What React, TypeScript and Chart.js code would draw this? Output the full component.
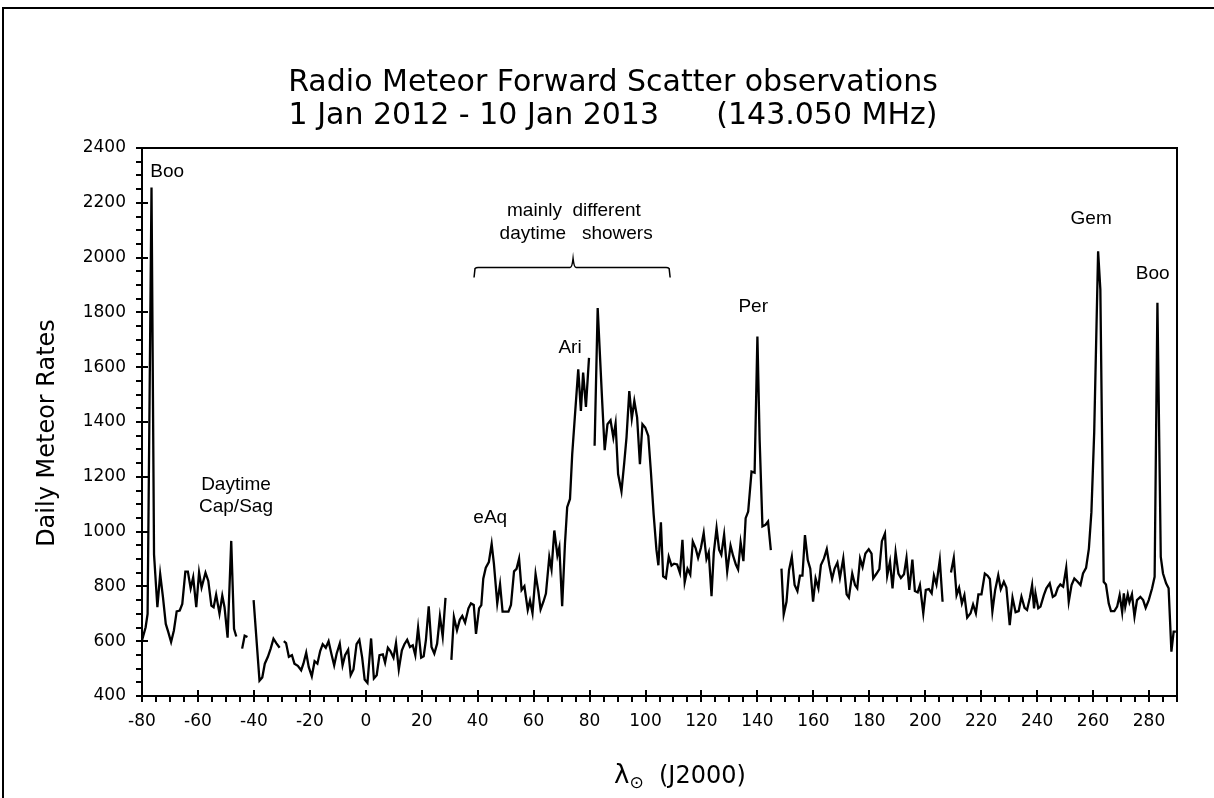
import React, { useEffect, useRef } from "react";
import { Chart, registerables } from "chart.js";

Chart.register(...registerables);

// Solar longitude (degrees, J2000) of each daily count; null rate marks a data gap
const lambda: number[] = [
  -80, -78.7, -78.0, -76.6, -75.7, -74.5, -73.5, -72.5, -71.5, -70.6, -69.6, -68.6, -67.6, -66.5, -65.6, -64.5,
  -63.6, -62.6, -61.7, -60.6, -59.6, -58.7, -57.3, -56.3, -55.2, -54.4, -53.5, -52.3, -51.3, -50.5, -49.4, -48.1,
  -47.1, -46.3, -45.2,
  -44.2, -43.3, -42.3, -41.2,
  -40.1, -38, -37, -36.1, -35, -34, -33, -32, -30.8, -30,
  -29.3, -28.5, -27.5, -26.4, -25.5, -24.3, -23.1, -22.3, -21.3, -20.4, -19.3, -18.3, -17.3, -16.3, -15.4, -14.3,
  -13.3, -12.3, -11.3, -10.4, -9.3, -8.3, -7.4, -6.3, -5.4, -4.4, -3.3, -2.3, -1.3, -0.4, 0.6, 1.9,
  2.9, 3.9, 4.9, 6.1, 6.9, 7.9, 8.8, 9.9, 10.8, 11.8, 12.9, 13.8, 14.8, 15.8, 16.8, 17.7,
  18.7, 19.8, 20.7, 21.5, 22.5, 23.5, 24.5, 25.5, 26.5, 27.5, 28.5, 29.5,
  30.6, 31.5, 32.6, 33.6, 34.5, 35.5, 36.7, 37.6, 38.6, 39.4, 40.5, 41.3, 42, 42.9, 44, 45,
  45.8, 47, 48, 48.9, 50, 51, 51.9, 53, 53.9, 54.8, 55.7, 56.7, 57.9, 58.7, 59.6, 60.7,
  61.7, 62.5, 63.5, 64.4, 65.6, 66.4, 67.4, 68.5, 69.2, 70.2, 71.2, 72, 73, 73.8, 74.8, 75.95,
  76.9, 77.7, 78.7, 79.8, 80.8,
  81.8, 82.9, 83.7, 84.5, 85.4, 86.4, 87.5, 88.5, 89.3, 90.2, 91.4, 92.4, 93.2, 94.2, 95.1, 96,
  97, 98, 98.9, 99.9, 101, 101.9, 102.9, 103.9, 104.6, 105.5, 106.3, 107.3, 108.3, 109.3, 110.2, 111.3,
  112.3, 113.2, 114, 115, 116, 116.9, 117.9, 118.8, 119.8, 120.8, 121.8, 122.6, 123.6, 124.4, 125.4, 126.3,
  127.1, 128.1, 129.2, 130.4, 131.3, 132.3, 133.1, 134, 135, 135.8, 136.7, 137.9, 139, 140, 140.8, 141.8,
  142.9, 143.8, 144.8, 146.7,
  148.6, 149.4, 150.4, 151.3, 152.3, 153.3, 154.3, 155.2, 156.1, 157, 158, 158.9, 159.9, 160.8, 161.8, 162.7,
  163.8, 164.8, 165.7, 166.7, 167.6, 168.6, 169.5, 170.7, 171.9, 172.7, 173.9, 174.9, 175.7, 176.7, 177.6, 178.6,
  179.8, 180.8, 181.4, 182.6, 183.6, 184.5, 185.6, 186.4, 187.4, 188.3, 189.4, 190.4, 191.3, 192.4, 193.3, 194.3,
  195.4, 196.3, 197.3, 198.1, 199.3, 200.2, 201.3, 202.3, 203.1, 204, 205.2, 206.2, 207.7,
  209.2, 210.2, 211.2, 212.1, 213.1, 214, 215, 216.2, 217.1, 218.1, 219, 220.1, 221.3, 222.3, 223.1, 224,
  225, 226.1, 227, 228.1, 229, 230.2, 231.2, 232.3, 233.4, 234.4, 235.5, 236.4, 237.4, 238.2, 238.9, 239.4,
  240.4, 241.2, 242.4, 243.3, 244.5, 245.6, 246.5, 247.4, 248.3, 249.3, 250.4, 251.3, 252.3, 253.3, 254.3, 255.5,
  256.4, 257.5, 258.5, 259.4, 260.4, 261.8, 262.6, 263.8, 264.6, 265.6, 266.4, 267.6, 268.6, 269.5, 270.4, 271,
  271.5, 272.4, 273, 273.9, 274.8, 275.7, 276.9, 277.9, 278.8, 279.9, 281.1, 282, 283, 284.2, 285, 286.1,
  287, 288, 288.8, 289.6,
];

// Daily meteor rates
const rates: (number | null)[] = [
  603, 651, 700, 2256, 917, 724, 845, 760, 663, 633, 597, 639, 709, 712, 736, 854,
  854, 793, 833, 724, 851, 796, 850, 820, 730, 724, 770, 700, 766, 724, 613, 966,
  645, 617, null,
  573, 620, 615, null,
  750, 456, 468, 518, 543, 573, 609, 593, 576, null,
  600, 593, 543, 549, 518, 510, 494, 518, 558, 506, 472, 527, 518, 564, 589, 576,
  600, 554, 512, 555, 591, 512, 549, 569, 476, 497, 589, 605, 541, 460, 448, 610,
  464, 476, 549, 552, 522, 576, 564, 540, 593, 497, 567, 589, 605, 579, 585, 549,
  649, 540, 545, 605, 727, 579, 555, 591, 691, 617, 758, null,
  532, 688, 640, 678, 692, 668, 720, 738, 732, 627, 720, 732, 828, 868, 889, 955,
  883, 738, 808, 708, 708, 708, 732, 855, 864, 901, 787, 801, 714, 748, 702, 845,
  781, 716, 744, 774, 907, 862, 1004, 913, 943, 728, 955, 1089, 1119, 1283, 1428, 1592,
  1440, 1580, 1455, 1634, null,
  1313, 1816, 1646, 1477, 1297, 1392, 1406, 1343, 1394, 1210, 1147, 1252, 1343, 1513, 1413, 1477,
  1416, 1246, 1392, 1380, 1349, 1222, 1064, 934, 877, 1034, 837, 830, 908, 876, 883, 880,
  849, 970, 815, 864, 843, 964, 940, 904, 940, 995, 900, 924, 764, 922, 1013, 934,
  916, 989, 855, 949, 912, 880, 862, 961, 892, 1049, 1073, 1219, 1215, 1712, 1334, 1019,
  1025, 1037, 932, null,
  865, 698, 744, 859, 908, 805, 783, 839, 839, 987, 896, 865, 744, 829, 793, 878,
  902, 936, 878, 827, 865, 887, 831, 902, 771, 759, 847, 805, 793, 902, 871, 920,
  936, 920, 829, 847, 863, 965, 993, 839, 890, 793, 924, 847, 831, 844, 904, 787,
  898, 783, 778, 805, 702, 787, 790, 775, 839, 807, 896, 744, null,
  851, 904, 768, 795, 738, 768, 686, 702, 734, 702, 771, 771, 847, 839, 827, 708,
  787, 841, 790, 817, 796, 659, 759, 706, 710, 762, 722, 714, 759, 805, 720, 775,
  720, 726, 768, 793, 811, 762, 768, 795, 807, 799, 868, 744, 805, 829, 819, 805,
  847, 868, 938, 1071, 1362, 2023, 1883, 817, 807, 738, 710, 710, 726, 768, 705, 775,
  726, 771, 742, 771, 690, 750, 762, 750, 722, 750, 793, 835, 1835, 908, 847, 811,
  793, 562, 635, 635,
];

// Shower annotations: label text, anchor longitude and anchor rate
const noteLabels: string[] = [
  "Boo", "Daytime", "Cap/Sag", "eAq", "Ari", "mainly  different", "daytime   showers", "Per", "Gem", "Boo",
];
const noteLambda: number[] = [-71.0, -46.4, -46.4, 44.5, 73.0, 74.4, 75.2, 138.5, 259.3, 281.3];
const noteRate: number[] = [2313, 1172, 1090, 1050, 1672, 2172, 2088, 1820, 2141, 1940];

// Brace over the "mainly different daytime showers" interval
const braceLambda: number[] = [38.7, 74.1, 108.8];
const braceRate = 1964;

const titleLines: string[] = [
  "Radio Meteor Forward Scatter observations",
  "1 Jan 2012 - 10 Jan 2013      (143.050 MHz)",
];
const yTitle = "Daily Meteor Rates";

const W = 1214;
const H = 798;

const overlay = {
  id: "overlay",
  afterDraw(chart: any) {
    const { ctx, chartArea: ca, scales } = chart;
    const xs = scales.x;
    const ys = scales.y;
    ctx.save();
    ctx.strokeStyle = "#000";
    ctx.fillStyle = "#000";

    // outer frame (left + top)
    ctx.lineWidth = 2;
    ctx.beginPath();
    ctx.moveTo(3, H);
    ctx.lineTo(3, 8);
    ctx.lineTo(W, 8);
    ctx.stroke();

    // plot box
    ctx.lineWidth = 2;
    ctx.strokeRect(ca.left, ca.top, ca.right - ca.left, ca.bottom - ca.top);

    // ticks
    ctx.lineWidth = 2;
    ctx.beginPath();
    for (let v = 400; v <= 2400; v += 50) {
      const py = Math.round(ys.getPixelForValue(v));
      const major = v % 200 === 0;
      ctx.moveTo(ca.left - 6, py);
      ctx.lineTo(ca.left + (major ? 6 : 0), py);
    }
    for (let v = -80; v <= 290; v += 5) {
      const px = Math.round(xs.getPixelForValue(v));
      const major = v % 20 === 0;
      ctx.moveTo(px, ca.bottom + 6);
      ctx.lineTo(px, ca.bottom - (major ? 6 : 0));
    }
    ctx.stroke();

    // titles
    ctx.textAlign = "center";
    ctx.textBaseline = "middle";
    ctx.font = '30px "DejaVu Sans"';
    ctx.fillText(titleLines[0], 613, 83);
    ctx.fillText(titleLines[1], 613, 116);

    // y title
    ctx.save();
    ctx.translate(48, 433);
    ctx.rotate(-Math.PI / 2);
    ctx.font = '24px "DejaVu Sans"';
    ctx.fillText(yTitle, 0, 0);
    ctx.restore();

    // x title: lambda with sun subscript
    ctx.textAlign = "left";
    ctx.textBaseline = "alphabetic";
    const big = '26px "DejaVu Sans"';
    const sub = '17px "DejaVu Sans"';
    const rest = '24px "DejaVu Sans"';
    const restText = "  (J2000)";
    ctx.font = big;
    const wL = ctx.measureText("λ").width;
    ctx.font = sub;
    const wS = ctx.measureText("⊙").width;
    ctx.font = rest;
    const wR = ctx.measureText(restText).width;
    let cx = 680 - (wL + wS + wR) / 2;
    const base = 783;
    ctx.font = big;
    ctx.fillText("λ", cx, base);
    cx += wL;
    ctx.font = sub;
    ctx.fillText("⊙", cx, base + 5);
    cx += wS;
    ctx.font = rest;
    ctx.fillText(restText, cx, base);

    // annotations
    ctx.textAlign = "center";
    ctx.textBaseline = "middle";
    ctx.font = '19px "Liberation Sans", Arial, sans-serif';
    for (let i = 0; i < noteLabels.length; i++) {
      ctx.fillText(noteLabels[i], xs.getPixelForValue(noteLambda[i]), ys.getPixelForValue(noteRate[i]));
    }

    // brace
    const bx0 = xs.getPixelForValue(braceLambda[0]);
    const bxm = xs.getPixelForValue(braceLambda[1]);
    const bx1 = xs.getPixelForValue(braceLambda[2]);
    const by = ys.getPixelForValue(braceRate);
    ctx.lineWidth = 1.5;
    ctx.beginPath();
    ctx.moveTo(bx0, by + 10);
    ctx.lineTo(bx0 + 1, by + 1);
    ctx.quadraticCurveTo(bx0 + 2, by, bx0 + 4, by);
    ctx.lineTo(bxm - 3, by);
    ctx.quadraticCurveTo(bxm - 1, by, bxm, by - 9);
    ctx.quadraticCurveTo(bxm + 1, by, bxm + 3, by);
    ctx.lineTo(bx1 - 4, by);
    ctx.quadraticCurveTo(bx1 - 2, by, bx1 - 1, by + 1);
    ctx.lineTo(bx1, by + 10);
    ctx.stroke();

    ctx.restore();
  },
};

export default function App() {
  const ref = useRef<HTMLCanvasElement | null>(null);

  useEffect(() => {
    const canvas = ref.current;
    if (!canvas) return;
    const points = lambda.map((l, i) => ({ x: l, y: rates[i] }));
    const tickFont = { family: '"DejaVu Sans"', size: 17 };
    const chart = new Chart(canvas, {
      type: "line",
      data: {
        datasets: [
          {
            data: points as any,
            borderColor: "#000",
            borderWidth: 2.3,
            pointRadius: 0,
            tension: 0,
            fill: false,
            spanGaps: false,
          },
        ],
      },
      options: {
        responsive: false,
        maintainAspectRatio: false,
        animation: false,
        devicePixelRatio: 1,
        layout: { padding: { top: 148, right: 37, left: 0, bottom: 0 } },
        plugins: { legend: { display: false }, tooltip: { enabled: false }, title: { display: false } },
        scales: {
          x: {
            type: "linear",
            min: -80,
            max: 290,
            grid: { display: false, drawTicks: false },
            border: { display: false },
            ticks: {
              stepSize: 20,
              includeBounds: false,
              autoSkip: false,
              maxRotation: 0,
              padding: 15,
              color: "#000",
              font: tickFont,
              callback: (v: any) => (Number(v) % 20 === 0 ? String(v) : null),
            },
            afterFit: (s: any) => {
              s.height = H - 696;
            },
          },
          y: {
            type: "linear",
            min: 400,
            max: 2400,
            grid: { display: false, drawTicks: false },
            border: { display: false },
            ticks: {
              stepSize: 200,
              autoSkip: false,
              padding: 16,
              color: "#000",
              font: tickFont,
              callback: (v: any) => String(v),
            },
            afterFit: (s: any) => {
              s.width = 142;
            },
          },
        },
      },
      plugins: [overlay],
    });
    return () => chart.destroy();
  }, []);

  return (
    <div style={{ position: "absolute", left: 0, top: 0, width: W, height: H, background: "#fff" }}>
      <canvas ref={ref} width={W} height={H} style={{ display: "block", width: W, height: H }} />
    </div>
  );
}
